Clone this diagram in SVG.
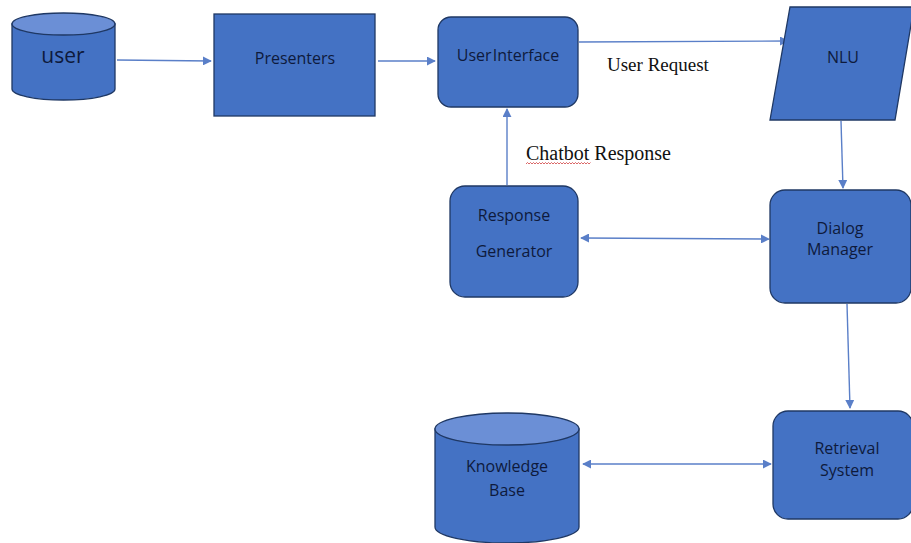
<svg xmlns="http://www.w3.org/2000/svg" width="911" height="543" viewBox="0 0 911 543">
<defs>
<style>
.n{fill:#4472C4;stroke:#1f3864;stroke-width:1.3}
.top{fill:#6b8fd6;stroke:#1f3864;stroke-width:1.3}
.t{font-family:"Open Sans","Liberation Sans",sans-serif;font-size:16px;fill:#0e1a3c;text-anchor:middle}
.c{stroke:#5a7fc8;stroke-width:1.4;fill:none}
.lbl{font-family:"Liberation Serif",serif;font-size:19px;fill:#111}
</style>
<marker id="ah" viewBox="0 0 10 10" refX="9" refY="5" markerWidth="9" markerHeight="9" markerUnits="userSpaceOnUse" orient="auto">
<path d="M0,0 L10,5 L0,10 Z" fill="#5a7fc8"/>
</marker>
<marker id="as" viewBox="0 0 10 10" refX="1" refY="5" markerWidth="9" markerHeight="9" markerUnits="userSpaceOnUse" orient="auto">
<path d="M10,0 L0,5 L10,10 Z" fill="#5a7fc8"/>
</marker>
</defs>
<rect width="911" height="543" fill="#fff"/>
<g id="connectors">
<line class="c" x1="117" y1="60" x2="211" y2="61" marker-end="url(#ah)"/>
<line class="c" x1="378" y1="61" x2="435" y2="61" marker-end="url(#ah)"/>
<line class="c" x1="579" y1="42" x2="788" y2="41" marker-end="url(#ah)"/>
<line class="c" x1="841" y1="121" x2="843" y2="188" marker-end="url(#ah)"/>
<line class="c" x1="507" y1="185" x2="507" y2="109" marker-end="url(#ah)"/>
<line class="c" x1="581" y1="238" x2="769" y2="239" marker-start="url(#as)" marker-end="url(#ah)"/>
<line class="c" x1="847" y1="304" x2="850" y2="408" marker-end="url(#ah)"/>
<line class="c" x1="583" y1="464" x2="771" y2="464" marker-start="url(#as)" marker-end="url(#ah)"/>
<text class="lbl" x="607" y="71">User Request</text>
<text class="lbl" x="526" y="160" style="font-size:20px">Chatbot Response</text>
<path d="M526,164 l1.5,-1.5 l1.5,1.5 l1.5,-1.5 l1.5,1.5 l1.5,-1.5 l1.5,1.5 l1.5,-1.5 l1.5,1.5 l1.5,-1.5 l1.5,1.5 l1.5,-1.5 l1.5,1.5 l1.5,-1.5 l1.5,1.5 l1.5,-1.5 l1.5,1.5 l1.5,-1.5 l1.5,1.5 l1.5,-1.5 l1.5,1.5 l1.5,-1.5 l1.5,1.5 l1.5,-1.5 l1.5,1.5 l1.5,-1.5 l1.5,1.5 l1.5,-1.5 l1.5,1.5 l1.5,-1.5 l1.5,1.5 l1.5,-1.5 l1.5,1.5 l1.5,-1.5 l1.5,1.5 l1.5,-1.5 l1.5,1.5 l1.5,-1.5 l1.5,1.5 l1.5,-1.5 l1.5,1.5 l1.5,-1.5 l1.5,1.5 l1.5,-1.5" fill="none" stroke="#d04040" stroke-width="0.8"/>
</g>
<g id="user">
<path class="n" d="M12,24 L12,89 A51.5,11 0 0 0 115,89 L115,24 Z"/>
<ellipse class="top" cx="63.5" cy="24" rx="51.5" ry="11"/>
<text class="t" x="63" y="63" style="font-size:21px">user</text>
</g>
<g id="presenters">
<rect class="n" x="214" y="14" width="161" height="102"/>
<text class="t" x="295" y="64">Presenters</text>
</g>
<g id="user-interface">
<rect class="n" x="438" y="17" width="140" height="90" rx="13"/>
<text class="t" x="508" y="61" style="word-spacing:-3px">User Interface</text>
</g>
<g id="nlu">
<path class="n" d="M790,7 L914,7 L895,120 L770,120 Z"/>
<text class="t" x="843" y="63">NLU</text>
</g>
<g id="response-generator">
<rect class="n" x="450" y="186" width="128" height="111" rx="15"/>
<text class="t" x="514" y="221">Response</text>
<text class="t" x="514" y="257">Generator</text>
</g>
<g id="dialog-manager">
<rect class="n" x="770" y="190" width="141" height="113" rx="15"/>
<text class="t" x="840" y="234">Dialog</text>
<text class="t" x="840" y="255">Manager</text>
</g>
<g id="retrieval-system">
<rect class="n" x="773" y="411" width="140" height="108" rx="15"/>
<text class="t" x="847" y="454">Retrieval</text>
<text class="t" x="847" y="476">System</text>
</g>
<g id="knowledge-base">
<path class="n" d="M435,429 L435,527 A72,16 0 0 0 579,527 L579,429 Z"/>
<ellipse class="top" cx="507" cy="429" rx="72" ry="16"/>
<text class="t" x="507" y="472">Knowledge</text>
<text class="t" x="507" y="496">Base</text>
</g>
</svg>
